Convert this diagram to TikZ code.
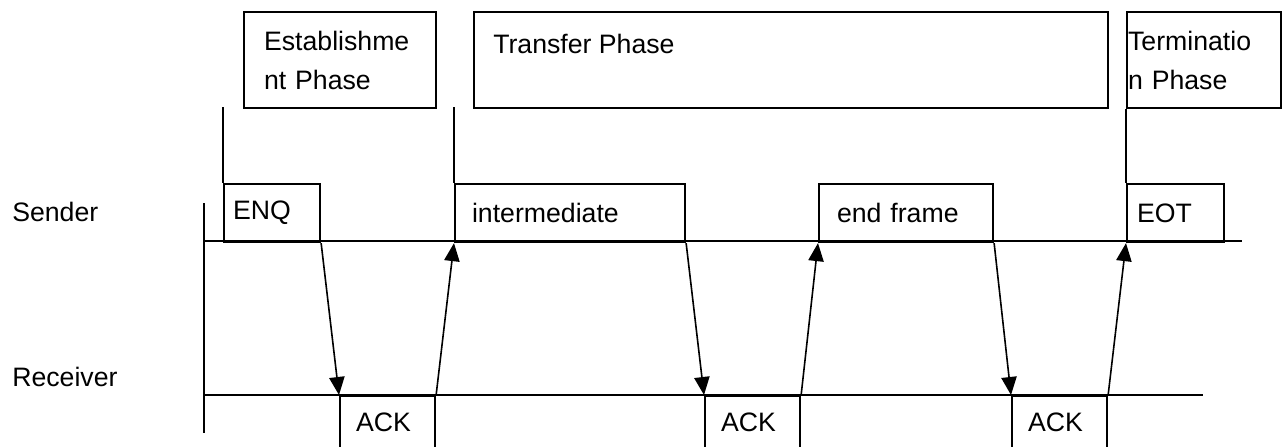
\documentclass[tikz,border=0pt]{standalone}
\usepackage{fontspec}
\setmainfont{Liberation Sans}
\usetikzlibrary{arrows.meta,calc}
\begin{document}
\begin{tikzpicture}[x=0.75pt, y=-0.75pt,
  every node/.style={font=\fontsize{20}{29.25}\selectfont},
  framebox/.style={draw, line width=1.6pt, rectangle, anchor=north west,
    inner ysep=0pt, align=left},
  msgbox/.style={framebox, minimum height=43.5pt},
  ackbox/.style={framebox, minimum width=71.25pt, minimum height=39.75pt,
    text width=47.25pt, inner xsep=12pt},
  phasebox/.style={framebox, minimum height=72pt},
  timeline/.style={line width=1.4pt},
  marker/.style={line width=1.1pt},
  signal/.style={-{Triangle[length=13.5pt,width=11.5pt]}, line width=1.2pt},
  party/.style={anchor=base west, inner sep=0pt}]

\useasboundingbox (0,0) rectangle (1288,446);
\clip (0,0) rectangle (1288,446);

% party labels
\node[party] (sender) at (12,221) {Sender};
\node[party] (receiver) at (12,386) {Receiver};

% phase boxes
\node[phasebox, minimum width=144pt, text width=114pt, inner xsep=15pt]
  (est) at (243,11) {Establishme\\nt Phase};
\node[phasebox, minimum width=475.5pt] (transfer) at (473,11) {};
\node[anchor=base west, inner sep=0pt] (transfertext)
  at ($(transfer.north west)+(20,42)$) {Transfer Phase};
\node[phasebox, minimum width=115.5pt, text width=114pt, inner xsep=0.75pt]
  (term) at (1126,11) {Terminatio\\n Phase};

% sender frames
\node[msgbox, minimum width=72pt, text width=58.5pt, inner xsep=6.75pt]
  (enq) at (223,183) {ENQ};
\node[msgbox, minimum width=172.5pt, text width=147pt, inner xsep=12.75pt]
  (inter) at (454,183) {intermediate};
\node[msgbox, minimum width=130.5pt, text width=103.5pt, inner xsep=13.5pt]
  (endf) at (818,183) {end frame};
\node[msgbox, minimum width=72.75pt, text width=57.75pt, inner xsep=7.5pt]
  (eot) at (1126,183) {EOT};

% receiver acknowledgements
\node[ackbox] (ack1) at (339,395) {ACK};
\node[ackbox] (ack2) at (704,395) {ACK};
\node[ackbox] (ack3) at (1011,395) {ACK};

% time axes
\coordinate (axtop) at (204,203);
\coordinate (axbot) at (204,433);
\coordinate (sendstart) at (204,241);
\coordinate (sendend) at (1242,241);
\coordinate (recvstart) at (204,395);
\coordinate (recvend) at (1203,395);
\draw[timeline] (axtop) -- (axbot);
\draw[timeline] (sendstart) -- (sendend);
\draw[timeline] (recvstart) -- (recvend);

% phase markers
\coordinate (estmark) at (223,107);
\coordinate (transfermark) at (454,107);
\draw[marker] (estmark) -- (enq.north west);
\draw[marker] (transfermark) -- (inter.north west);
\draw[marker] (term.south west) -- (eot.north west);

% message exchange
\draw[signal] (enq.south east) -- (ack1.north west);
\draw[signal] (ack1.north east) -- (inter.south west);
\draw[signal] (inter.south east) -- (ack2.north west);
\draw[signal] (ack2.north east) -- (endf.south west);
\draw[signal] (endf.south east) -- (ack3.north west);
\draw[signal] (ack3.north east) -- (eot.south west);
\end{tikzpicture}
\end{document}
